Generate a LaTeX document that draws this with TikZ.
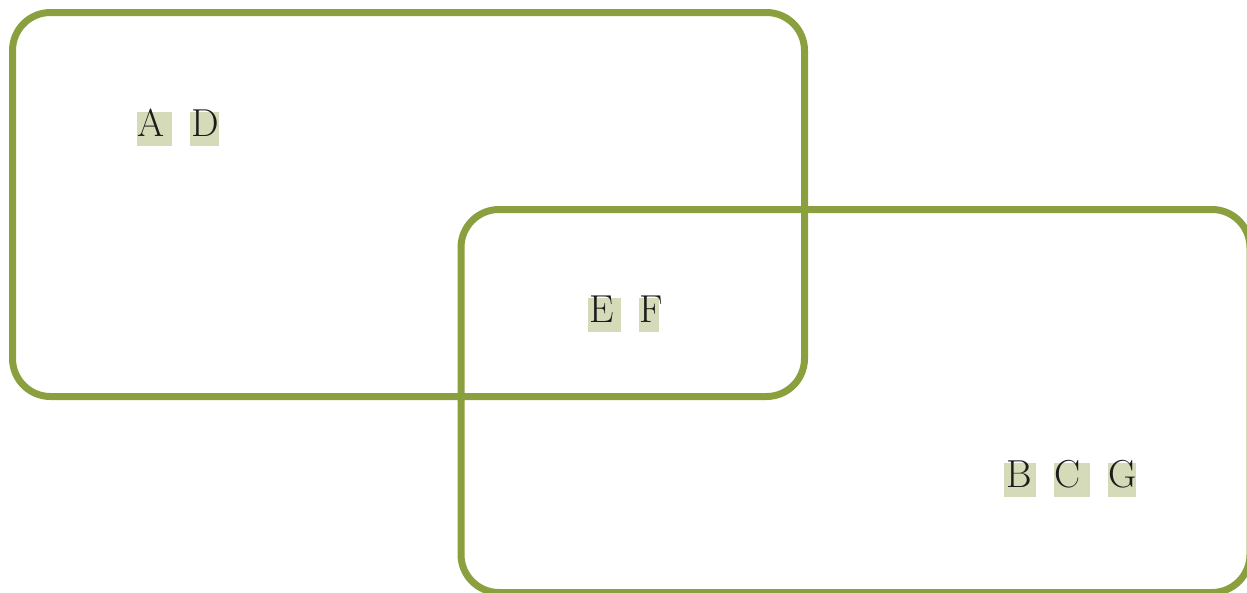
\documentclass[tikz,border=0pt]{standalone}
\definecolor{setline}{RGB}{138,160,62}
\definecolor{tagfill}{RGB}{213,218,184}
\definecolor{tagtext}{RGB}{28,28,28}
\begin{document}
\begin{tikzpicture}[x=1pt,y=-1pt,
  setbox/.style={draw=setline,line width=7pt,rounded corners=38pt},
  tag/.style={fill=tagfill,text=tagtext,inner sep=0pt,text height=24pt,text depth=10pt,
    anchor=base west,align=left,font=\fontsize{39}{44}\selectfont}]
\useasboundingbox (0,0) rectangle (1247,592);
\draw[setbox] (12.5,12.5) rectangle (804.5,396.5);
\draw[setbox] (461,209.5) rectangle (1250,592.5);
\node[tag,text width=35pt] (a) at (137,136) {A};
\node[tag,text width=29pt] (d) at (190,136) {\hspace*{1pt}D};
\node[tag,text width=33pt] (e) at (588,322) {\hspace*{1pt}E};
\node[tag,text width=20pt] (f) at (639,322) {F};
\node[tag,text width=32pt] (b) at (1004,487) {\hspace*{2pt}B};
\node[tag,text width=36pt] (c) at (1054,487) {C};
\node[tag,text width=28pt] (g) at (1108,487) {G};
\end{tikzpicture}
\end{document}
